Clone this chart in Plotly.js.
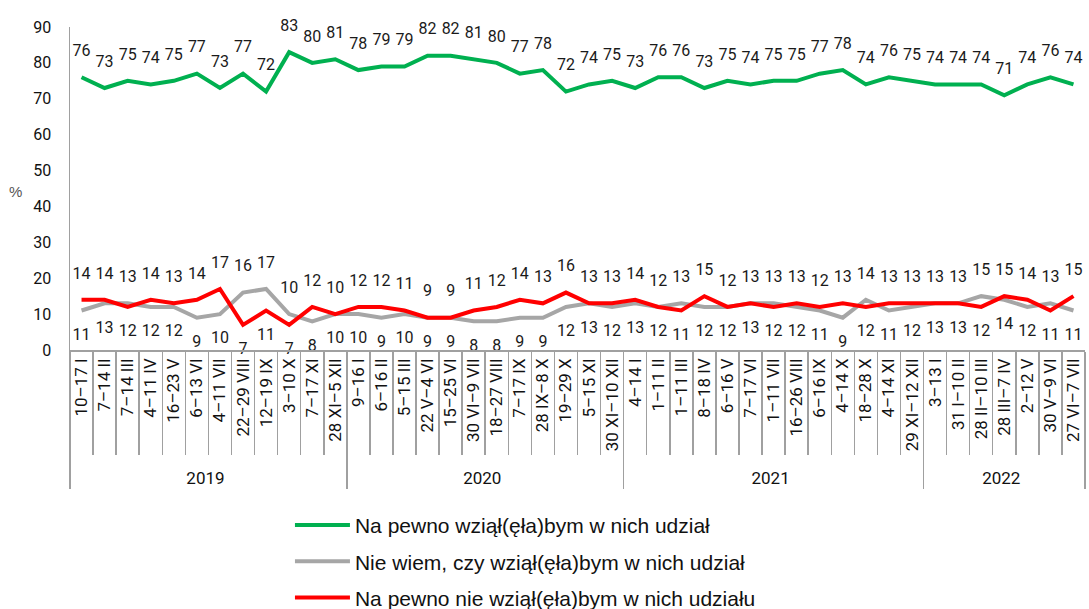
<!DOCTYPE html>
<html>
<head>
<meta charset="utf-8">
<script src="https://cdn.plot.ly/plotly-3.0.1.min.js"></script>
<style>html,body{margin:0;padding:0;background:#fff;}#chart{width:1089px;height:609px;}</style>
</head>
<body>
<div id="chart"></div>
<script>
const years = ["2019","2020","2021","2022"];
const yearCounts = [12, 12, 13, 7];
const periods = [
  "10–17 I","7–14 II","7–14 III","4–11 IV","16–23 V","6–13 VI","4–11 VII","22–29 VIII","12–19 IX","3–10 X","7–17 XI","28 XI–5 XII",
  "9–16 I","6–16 II","5–15 III","22 V–4 VI","15–25 VI","30 VI–9 VII","18–27 VIII","7–17 IX","28 IX–8 X","19–29 X","5–15 XI","30 XI–10 XII",
  "4–14 I","1–11 II","1–11 III","8–18 IV","6–16 V","7–17 VI","1–11 VII","16–26 VIII","6–16 IX","4–14 X","18–28 X","4–14 XI","29 XI–12 XII",
  "3–13 I","31 I–10 II","28 II–10 III","28 III–7 IV","2–12 V","30 V–9 VI","27 VI–7 VII"
];
const surelyYes = [
  76,73,75,74,75,77,73,77,72,83,80,81,
  78,79,79,82,82,81,80,77,78,72,74,75,
  73,76,76,73,75,74,75,75,77,78,74,76,75,
  74,74,74,71,74,76,74
];
const dontKnow = [
  11,13,13,12,12,9,10,16,17,10,8,10,
  10,9,10,9,9,8,8,9,9,12,13,12,
  13,12,13,12,12,13,13,12,11,9,14,11,12,
  13,13,15,14,12,13,11
];
const surelyNo = [
  14,14,12,14,13,14,17,7,11,7,12,10,
  12,12,11,9,9,11,12,14,13,16,13,13,
  14,12,11,15,12,13,12,13,12,13,12,13,13,
  13,13,12,15,14,11,15
];
const seriesNames = [
  "Na pewno wziął(ęła)bym w nich udział",
  "Nie wiem, czy wziął(ęła)bym w nich udział",
  "Na pewno nie wziął(ęła)bym w nich udziału"
];

const yearLevel = [];
years.forEach((y, i) => { for (let k = 0; k < yearCounts[i]; k++) yearLevel.push(y); });
const xcat = [yearLevel, periods];

const numFont = {family: "Roboto, sans-serif", size: 16, color: "#1a1a1a"};
const clear = 'rgba(0,0,0,0)';

const grayPos = dontKnow.map((v, i) => v > surelyNo[i] ? 'top center' : 'bottom center');
const redPos = surelyNo.map((v, i) => v >= dontKnow[i] ? 'top center' : 'bottom center');

const traces = [
  {x: xcat, y: surelyYes, name: seriesNames[0], mode: 'lines+markers+text', legendgroup: 'a',
   line: {color: '#00b050', width: 4}, marker: {size: 26, color: clear},
   text: surelyYes.map(String), textposition: 'top center', textfont: numFont, cliponaxis: false},
  {x: xcat, y: dontKnow, name: seriesNames[1], mode: 'lines+markers+text', legendgroup: 'b',
   line: {color: '#a6a6a6', width: 4}, marker: {size: 26, color: clear},
   text: dontKnow.map(String), textposition: grayPos, textfont: numFont, cliponaxis: false},
  {x: xcat, y: surelyNo, name: seriesNames[2], mode: 'lines+markers+text', legendgroup: 'c',
   line: {color: '#ff0000', width: 4}, marker: {size: 26, color: clear},
   text: surelyNo.map(String), textposition: redPos, textfont: numFont, cliponaxis: false}
];

const layout = {
  width: 1089, height: 609,
  margin: {l: 70, r: 4, t: 27, b: 259},
  paper_bgcolor: '#fff', plot_bgcolor: '#fff',
  showlegend: true,
  legend: {
    orientation: 'v', x: 0.2167, xanchor: 'left', yref: 'container', y: 0.171, yanchor: 'top',
    font: {family: "'Liberation Sans',Arial,sans-serif", size: 21, color: '#111'},
    itemwidth: 55, traceorder: 'grouped', tracegroupgap: 6, bgcolor: clear
  },
  xaxis: {
    type: 'multicategory', tickangle: -90, range: [-0.5, periods.length - 0.5], autorange: false,
    tickfont: {family: "Roboto, sans-serif", size: 17, color: '#111'},
    showline: true, linecolor: '#a0a0a0', linewidth: 1.5,
    ticks: 'outside', tickson: 'boundaries', ticklen: 103, tickcolor: '#a0a0a0', tickwidth: 1.5,
    showdividers: true, dividercolor: '#a0a0a0', dividerwidth: 1.5,
    showgrid: false, zeroline: false, fixedrange: true
  },
  yaxis: {
    range: [0, 90], dtick: 10, showgrid: false, zeroline: false,
    showline: true, linecolor: '#a0a0a0', linewidth: 1.5, ticks: '',
    ticklabelstandoff: 14,
    tickfont: {family: "Roboto, sans-serif", size: 16, color: '#111'}
  },
  annotations: [{
    text: '%', xref: 'paper', yref: 'paper', x: -0.054, y: 0.49, xanchor: 'center', yanchor: 'middle',
    showarrow: false, font: {family: "'Liberation Sans',Arial,sans-serif", size: 15, color: '#555'}
  }]
};

Plotly.newPlot('chart', traces, layout, {displayModeBar: false, staticPlot: true});
</script>
</body>
</html>
